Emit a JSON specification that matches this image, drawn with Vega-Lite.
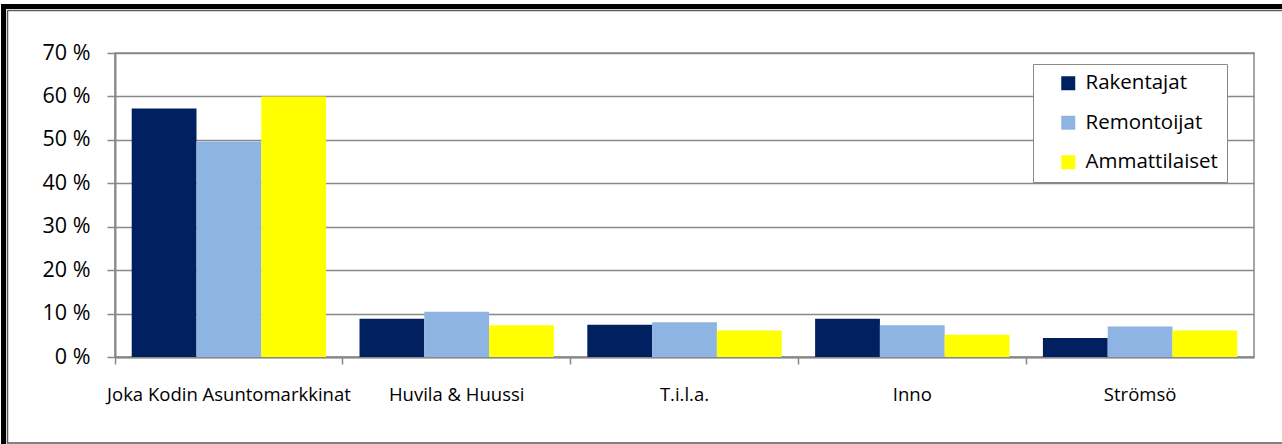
{
  "$schema": "https://vega.github.io/schema/vega-lite/v6.json",
  "width": 1139,
  "height": 304,
  "autosize": "none",
  "padding": {"left": 115, "top": 53, "right": 28, "bottom": 87},
  "background": "white",
  "config": {"view": {"stroke": "#898989", "strokeWidth": 1.5}, "font": "Open Sans"},
  "datasets": {
    "bars": [
      {"brand": "Joka Kodin Asuntomarkkinat", "group": "Rakentajat", "value": 57.2},
      {"brand": "Joka Kodin Asuntomarkkinat", "group": "Remontoijat", "value": 49.6},
      {"brand": "Joka Kodin Asuntomarkkinat", "group": "Ammattilaiset", "value": 60.0},
      {"brand": "Huvila & Huussi", "group": "Rakentajat", "value": 8.8},
      {"brand": "Huvila & Huussi", "group": "Remontoijat", "value": 10.4},
      {"brand": "Huvila & Huussi", "group": "Ammattilaiset", "value": 7.3},
      {"brand": "T.i.l.a.", "group": "Rakentajat", "value": 7.4},
      {"brand": "T.i.l.a.", "group": "Remontoijat", "value": 8.0},
      {"brand": "T.i.l.a.", "group": "Ammattilaiset", "value": 6.1},
      {"brand": "Inno", "group": "Rakentajat", "value": 8.8},
      {"brand": "Inno", "group": "Remontoijat", "value": 7.3},
      {"brand": "Inno", "group": "Ammattilaiset", "value": 5.1},
      {"brand": "Strömsö", "group": "Rakentajat", "value": 4.4},
      {"brand": "Strömsö", "group": "Remontoijat", "value": 7.0},
      {"brand": "Strömsö", "group": "Ammattilaiset", "value": 6.1}
    ]
  },
  "layer": [
    {
      "data": {"values": [{}]},
      "mark": {"type": "rect", "fill": "transparent", "stroke": "black", "strokeWidth": 5},
      "encoding": {
        "x": {"datum": 0, "type": "quantitative", "scale": {"domain": [0, 1], "range": [-111.5, 1175]}, "axis": null},
        "x2": {"datum": 1},
        "y": {"datum": 0, "type": "quantitative", "scale": {"domain": [0, 1], "range": [-46.5, 397]}, "axis": null},
        "y2": {"datum": 1}
      }
    },
    {
      "data": {"values": [{}]},
      "mark": {"type": "rect", "fill": "transparent", "stroke": "#5a5a5a", "strokeWidth": 1.5},
      "encoding": {
        "x": {"datum": 0, "type": "quantitative", "scale": {"domain": [0, 1], "range": [-107.5, 1175]}, "axis": null},
        "x2": {"datum": 1},
        "y": {"datum": 0, "type": "quantitative", "scale": {"domain": [0, 1], "range": [-42.5, 390]}, "axis": null},
        "y2": {"datum": 1}
      }
    },
    {
      "data": {"name": "bars"},
      "mark": {"type": "bar"},
      "encoding": {
        "x": {
          "field": "brand", "type": "nominal",
          "sort": ["Joka Kodin Asuntomarkkinat", "Huvila & Huussi", "T.i.l.a.", "Inno", "Strömsö"],
          "scale": {"paddingInner": 0, "paddingOuter": 0},
          "axis": {
            "title": null, "labelAngle": 0, "bandPosition": 0, "grid": false,
            "tickSize": 7, "tickColor": "#898989", "tickWidth": 1.5,
            "domainColor": "#898989", "domainWidth": 2,
            "labelFontSize": 18.5, "labelColor": "#000", "labelPadding": 21,
            "labelOverlap": false, "labelLimit": 0, "labelBound": false, "labelFlush": false
          }
        },
        "xOffset": {
          "field": "group", "type": "nominal",
          "sort": ["Rakentajat", "Remontoijat", "Ammattilaiset"],
          "scale": {"paddingInner": 0, "paddingOuter": 0.258}
        },
        "y": {
          "field": "value", "type": "quantitative",
          "scale": {"domain": [0, 70]},
          "axis": {
            "title": null, "values": [0, 10, 20, 30, 40, 50, 60, 70],
            "labelExpr": "datum.value + ' %'",
            "grid": true, "gridColor": "#898989", "gridWidth": 1.5,
            "tickSize": 8, "tickColor": "#898989", "tickWidth": 1.5,
            "domainColor": "#898989", "domainWidth": 2,
            "labelFontSize": 21.5, "labelColor": "#000", "labelPadding": 17
          }
        },
        "color": {
          "field": "group", "type": "nominal",
          "sort": ["Rakentajat", "Remontoijat", "Ammattilaiset"],
          "scale": {"domain": ["Rakentajat", "Remontoijat", "Ammattilaiset"], "range": ["#002060", "#8DB4E2", "#FFFF00"]},
          "legend": {
            "title": null, "orient": "none", "legendX": 918, "legendY": 11,
            "direction": "vertical", "symbolType": "square", "symbolSize": 196,
            "symbolStrokeWidth": 0, "labelFontSize": 20.5, "labelColor": "#000",
            "padding": 9, "rowPadding": 18.5, "symbolOffset": 16, "labelOffset": 7,
            "strokeColor": "#898989", "fillColor": "white"
          }
        }
      }
    }
  ],
  "resolve": {"scale": {"x": "independent", "y": "independent"}}
}
